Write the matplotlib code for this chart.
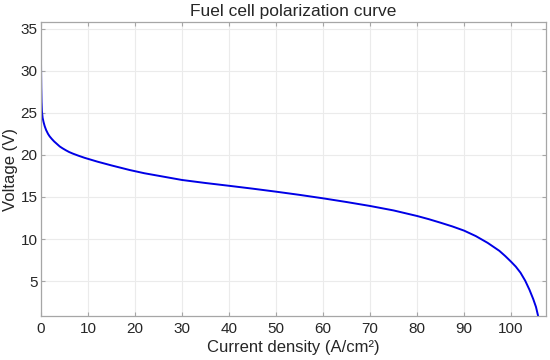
import matplotlib
matplotlib.use("Agg")
import matplotlib.pyplot as plt

# values
current_density = [0, 0.02, 0.06, 0.12, 0.2, 0.35, 0.55, 0.8, 1.1, 1.5, 1.85, 2.3, 2.8, 3.4,
                   4.0, 4.6, 5.3, 6.0, 6.8, 8.0, 9.3, 10.5, 12, 15, 18.9, 22, 25, 30, 35,
                   40, 45, 50, 55, 60, 65, 70, 75, 80, 82.5, 85, 87.5, 90, 92.5, 95, 97.5,
                   98.75, 100, 101, 102, 103, 103.9, 104.7, 105.3, 105.75]
voltage = [31.9, 30.0, 28.0, 26.3, 25.2, 24.4, 23.9, 23.4, 22.95, 22.5, 22.2, 21.9, 21.6, 21.3,
           21.0, 20.78, 20.55, 20.34, 20.15, 19.9, 19.65, 19.45, 19.2, 18.75, 18.2, 17.82, 17.52, 17.02, 16.66,
           16.33, 15.99, 15.63, 15.25, 14.84, 14.4, 13.93, 13.4, 12.74, 12.36, 11.94, 11.5, 11.0, 10.35, 9.55, 8.6,
           7.98, 7.3, 6.72, 6.0, 5.05, 3.98, 2.88, 1.92, 0.85]

x_ticks = [0, 10, 20, 30, 40, 50, 60, 70, 80, 90, 100]
y_ticks = [5, 10, 15, 20, 25, 30, 35]

plt.rcParams['font.family'] = ['Liberation Sans', 'DejaVu Sans']

fig = plt.figure(figsize=(5.5, 3.6), dpi=100)
ax = fig.add_axes([0.0745, 0.1222, 0.918, 0.8167])

ax.plot(current_density, voltage, color=(0.0, 0.0, 0.9), lw=1.4)

ax.set_xlim(0, 107.4)
ax.set_ylim(0.85, 35.8)
ax.set_xticks(x_ticks)
ax.set_yticks(y_ticks)
ax.grid(True, color='#ebebeb', lw=0.8)
ax.set_axisbelow(True)

for sp in ax.spines.values():
    sp.set_color('#a6a6a6')
    sp.set_linewidth(0.9)
ax.tick_params(direction='in', length=3, width=0.8, color='#a6a6a6',
               labelsize=11, labelcolor='#262626', top=True, right=True)
ax.tick_params(axis='y', pad=2.5)
ax.tick_params(axis='x', pad=4)

ax.set_xlabel('Current density (A/cm²)', fontsize=12, color='#262626', labelpad=3.5)
ax.set_ylabel('Voltage (V)', fontsize=12, color='#262626', labelpad=2)
ax.set_title('Fuel cell polarization curve', fontsize=12.5, color='#262626', pad=4)

fig.savefig('out.png', dpi=100)
